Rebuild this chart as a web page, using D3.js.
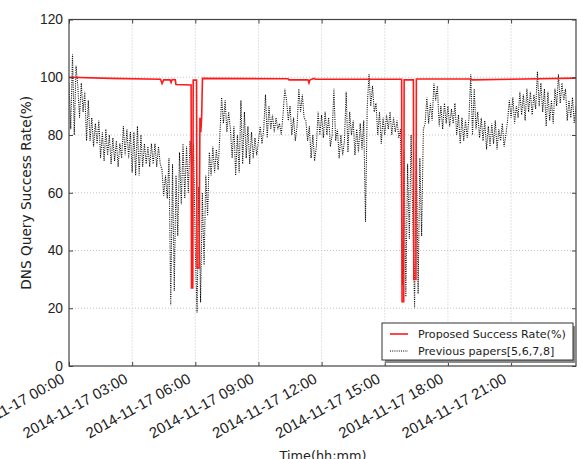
<!DOCTYPE html>
<html>
<head>
<meta charset="utf-8">
<script src="https://cdn.jsdelivr.net/npm/d3@7"></script>
<style>
  html, body { margin: 0; padding: 0; background: #fff; }
  svg { display: block; font-family: "DejaVu Sans", sans-serif; }
</style>
</head>
<body>
<svg id="chart" width="581" height="459"></svg>
<script>
// ---------- DATA ----------
const startTime = "2014-11-17T00:00:00Z";
const endTime = "2014-11-18T00:05:00Z";
const stepMinutes = 5;

// Previous papers[5,6,7,8] – success rate sampled every 5 minutes
const previousValues = [
  // 00h
  98, 82, 108, 80, 104, 97, 86, 98, 88, 95, 78, 92,
  // 01h
  78, 86, 76, 84, 77, 85, 72, 81, 71, 82, 73, 80,
  // 02h
  70, 79, 71, 78, 69, 77, 72, 83, 73, 82, 72, 81,
  // 03h
  67, 81, 66, 83, 66, 80, 69, 77, 70, 76, 69, 77,
  // 04h
  70, 77, 69, 76, 70, 68, 59, 66, 58, 72, 21, 70,
  // 05h
  26, 66, 45, 74, 56, 77, 58, 76, 60, 78, 67, 77,
  // 06h
  40, 18.5, 62, 22, 60, 35, 66, 52, 74, 66, 76, 67,
  // 07h
  75, 68, 80, 93, 84, 92, 81, 88, 82, 72, 83, 66,
  // 08h
  80, 67, 92, 70, 88, 72, 83, 70, 81, 72, 79, 73,
  // 09h
  78, 83, 77, 82, 94, 79, 90, 82, 87, 81, 86, 82,
  // 10h
  84, 80, 87, 96, 92, 85, 90, 80, 86, 78, 83, 96,
  // 11h
  88, 94, 86, 85, 78, 83, 72, 80, 71, 76, 88, 80,
  // 12h
  87, 79, 88, 80, 86, 76, 80, 96, 78, 82, 72, 80,
  // 13h
  73, 78, 95, 74, 88, 80, 85, 73, 82, 74, 84, 75,
  // 14h
  85, 50, 90, 101, 90, 97, 88, 91, 80, 88, 77, 86,
  // 15h
  80, 87, 82, 88, 80, 86, 81, 85, 79, 82, 28, 75,
  // 16h
  24, 70, 44, 80, 50, 20, 78, 25, 72, 45, 82, 84,
  // 17h
  93, 84, 91, 85, 98, 92, 97, 83, 90, 82, 91, 84,
  // 18h
  90, 83, 89, 84, 91, 80, 87, 77, 86, 78, 85, 79,
  // 19h
  86, 101, 80, 96, 82, 88, 79, 86, 78, 85, 75, 83,
  // 20h
  76, 84, 77, 85, 75, 82, 78, 84, 76, 80, 85, 92,
  // 21h
  86, 93, 84, 90, 86, 95, 87, 94, 85, 96, 88, 95,
  // 22h
  87, 94, 89, 102, 90, 98, 88, 96, 83, 95, 85, 92,
  // 23h
  84, 96, 90, 101, 91, 98, 92, 96, 85, 92, 86, 93,
  // 24h
  84, 90
];

// Proposed Success Rate(%) – [hour offset, value]
const proposedHours = [0, 2.0, 4.35, 4.42, 4.5, 4.8, 4.85, 4.9, 5.05, 5.08, 5.80, 5.82, 5.88, 5.90, 6.06, 6.08, 6.18, 6.22, 6.26, 6.30, 6.34, 10.4, 10.45, 11.35, 11.4, 11.45, 11.65, 11.7, 15.80, 15.82, 15.90, 15.92, 16.36, 16.38, 16.48, 16.50, 19.1, 19.15, 24.08];
const proposedValues = [100, 99.6, 99.3, 97.8, 99.1, 99.1, 98.2, 99.2, 99.1, 97.5, 97.3, 27, 27, 99.0, 99.0, 34, 34, 86, 81, 86, 99.6, 99.5, 99.1, 99.1, 98.0, 99.1, 99.6, 99.3, 99.3, 22.3, 22.3, 99.1, 99.1, 30, 30, 99.4, 99.4, 99.1, 99.7];

const yTicks = [0, 20, 40, 60, 80, 100, 120];
const xTickCount = 8; // 00:00 … 21:00 every 3 hours
const legendLabels = ["Proposed Success Rate(%)", "Previous papers[5,6,7,8]"];
const xTitle = "Time(hh:mm)";
const yTitle = "DNS Query Success Rate(%)";

// ---------- CHART ----------
const svg = d3.select("#chart");
const L = 69, R = 576, T = 19.5, B = 366;
const t0 = new Date(startTime), t1 = new Date(endTime);

const x = d3.scaleUtc().domain([t0, t1]).range([L, R]);
const y = d3.scaleLinear().domain([0, 120]).range([B, T]);

const prevData = previousValues.map((v, i) => ({ t: new Date(t0.getTime() + i * stepMinutes * 60000), v }));
const propData = proposedHours.map((h, i) => ({ t: new Date(t0.getTime() + h * 3600000), v: proposedValues[i] }));

const xTickVals = d3.utcHour.every(3).range(t0, t1).slice(0, xTickCount);
const fmt = d3.utcFormat("%Y-%m-%d %H:%M");

// scale a text's font so its rendered width matches a measured target
function fitFont(sel, base, target) {
  sel.attr("font-size", base);
  const w = sel.node().getComputedTextLength();
  return w > 0 ? base * target / w : base;
}

// grid
const grid = svg.append("g");
grid.selectAll(".gx").data(xTickVals.slice(1)).join("line")
  .attr("x1", d => x(d)).attr("x2", d => x(d)).attr("y1", T).attr("y2", B)
  .attr("stroke", "#b8b8b8").attr("stroke-width", 0.8).attr("stroke-dasharray", "1,2");
grid.selectAll(".gy").data(yTicks.slice(1, -1)).join("line")
  .attr("x1", L).attr("x2", R).attr("y1", d => y(d)).attr("y2", d => y(d))
  .attr("stroke", "#b8b8b8").attr("stroke-width", 0.8).attr("stroke-dasharray", "1,2");

svg.append("clipPath").attr("id", "clip").append("rect")
  .attr("x", L).attr("y", T).attr("width", R - L).attr("height", B - T);

const line = d3.line().x(d => x(d.t)).y(d => y(d.v));
const plot = svg.append("g").attr("clip-path", "url(#clip)");

plot.append("path").datum(prevData).attr("d", line)
  .attr("fill", "none").attr("stroke", "#000").attr("stroke-width", 1.05)
  .attr("stroke-dasharray", "1,1.2");

plot.append("path").datum(propData).attr("d", line)
  .attr("fill", "none").attr("stroke", "#ff1a1a").attr("stroke-width", 1.6)
  .attr("stroke-linejoin", "miter");

// axes (ticks inside, classic style)
const axisColor = "#444";
const gxB = svg.append("g").attr("transform", `translate(0,${B})`)
  .call(d3.axisBottom(x).tickValues(xTickVals).tickFormat(fmt).tickSizeInner(-4).tickSizeOuter(0));
gxB.select(".domain").remove();
gxB.selectAll(".tick line").attr("stroke", axisColor);
const xLab = gxB.selectAll(".tick text");
const xfs = fitFont(d3.select(xLab.nodes()[3]), 13, 117);
xLab.attr("font-size", xfs).attr("fill", "#222")
  .attr("text-anchor", "end")
  .attr("x", 0).attr("y", 0).attr("dy", 0)
  .attr("transform", "translate(-4,16) rotate(-29)");

const gxT = svg.append("g").attr("transform", `translate(0,${T})`)
  .call(d3.axisTop(x).tickValues(xTickVals).tickFormat("").tickSizeInner(-4).tickSizeOuter(0));
gxT.select(".domain").remove();
gxT.selectAll(".tick line").attr("stroke", axisColor);

const gyL = svg.append("g").attr("transform", `translate(${L},0)`)
  .call(d3.axisLeft(y).tickValues(yTicks).tickSizeInner(-4).tickSizeOuter(0).tickPadding(6));
gyL.select(".domain").remove();
gyL.selectAll(".tick line").attr("stroke", axisColor);
const yLab = gyL.selectAll(".tick text");
const yfs = fitFont(d3.select(yLab.nodes()[6]), 13, 23);
yLab.attr("font-size", yfs).attr("fill", "#222");

const gyR = svg.append("g").attr("transform", `translate(${R},0)`)
  .call(d3.axisRight(y).tickValues(yTicks).tickFormat("").tickSizeInner(-4).tickSizeOuter(0));
gyR.select(".domain").remove();
gyR.selectAll(".tick line").attr("stroke", axisColor);

svg.append("rect").attr("x", L).attr("y", T).attr("width", R - L).attr("height", B - T)
  .attr("fill", "none").attr("stroke", axisColor).attr("stroke-width", 1.2);

// titles
const xt = svg.append("text").attr("x", 323).attr("y", 460)
  .attr("text-anchor", "middle").attr("fill", "#222").text(xTitle);
xt.attr("font-size", fitFont(xt, 13, 87));
const yt = svg.append("text").attr("transform", `translate(30.5,${(T + B) / 2}) rotate(-90)`)
  .attr("text-anchor", "middle").attr("fill", "#222").text(yTitle);
yt.attr("font-size", fitFont(yt, 13, 194));

// legend
const lg = svg.append("g");
const lx = 382, ly = 323, lw = 191, lh = 37;
lg.append("rect").attr("x", lx + 3).attr("y", ly + 3).attr("width", lw).attr("height", lh).attr("fill", "#8a8a8a");
lg.append("rect").attr("x", lx).attr("y", ly).attr("width", lw).attr("height", lh)
  .attr("fill", "#fff").attr("stroke", "#333").attr("stroke-width", 1);
const legendStyles = [
  { stroke: "#ff1a1a", width: 1.6, dash: null },
  { stroke: "#000", width: 1.05, dash: "1,1.2" }
];
let lfs = null;
legendLabels.forEach((lab, i) => {
  const yy = ly + 11 + i * 17;
  lg.append("line").attr("x1", lx + 8).attr("x2", lx + 26).attr("y1", yy).attr("y2", yy)
    .attr("stroke", legendStyles[i].stroke).attr("stroke-width", legendStyles[i].width)
    .attr("stroke-dasharray", legendStyles[i].dash);
  const t = lg.append("text").attr("x", lx + 36).attr("y", yy + 4).attr("fill", "#222").text(lab);
  if (lfs === null) lfs = fitFont(t, 11, 148);
  t.attr("font-size", lfs);
});
</script>
</body>
</html>
